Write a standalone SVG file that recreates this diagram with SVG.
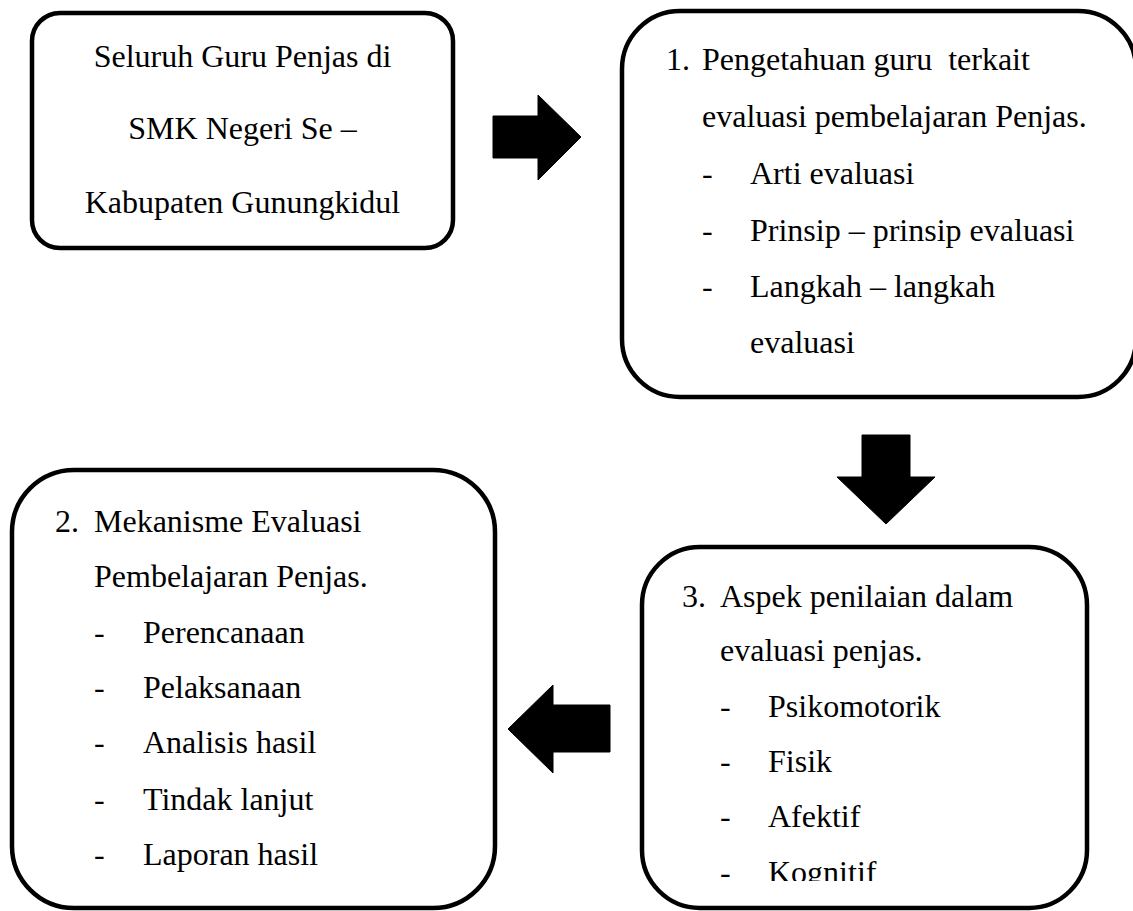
<svg xmlns="http://www.w3.org/2000/svg" width="1133" height="911" viewBox="0 0 1133 911" font-family="Liberation Serif, Times New Roman, DejaVu Serif, serif">
<style>
.box{fill:#fff;stroke:#000;stroke-width:4.5}
text{font-size:32px;fill:#000}
.c{text-anchor:middle}
.arr{fill:#000;stroke:#000;stroke-width:1;stroke-linejoin:round}
</style>
<defs>
<clipPath id="clip3"><rect x="642" y="547" width="445" height="334"/></clipPath>
</defs>
<rect width="1133" height="911" fill="#fff"/>
<g id="node-source" font-family="Liberation Serif, serif">
<rect class="box" x="32" y="13" width="421" height="235" rx="28" ry="28"/>
<text class="c" x="242.5" y="67" font-family="Liberation Serif, serif">Seluruh Guru Penjas di</text>
<text class="c" x="242.5" y="139" font-family="Liberation Serif, serif">SMK Negeri Se –</text>
<text class="c" x="242.5" y="213" font-family="Liberation Serif, serif">Kabupaten Gunungkidul</text>
</g>
<g id="node-1" font-family="Liberation Serif, serif">
<rect class="box" x="622" y="11" width="514" height="386" rx="58" ry="58"/>
<text x="666" y="70">1.</text>
<text x="702" y="70" xml:space="preserve">Pengetahuan guru  terkait</text>
<text x="702" y="127">evaluasi pembelajaran Penjas.</text>
<text x="702" y="184">-</text><text x="750" y="184">Arti evaluasi</text>
<text x="702" y="241">-</text><text x="750" y="241">Prinsip – prinsip evaluasi</text>
<text x="702" y="297">-</text><text x="750" y="297">Langkah – langkah</text>
<text x="750" y="353">evaluasi</text>
</g>
<g id="node-3" font-family="Liberation Serif, serif">
<rect class="box" x="642" y="547" width="445" height="361" rx="58" ry="58"/>
<g clip-path="url(#clip3)">
<text x="682" y="607">3.</text>
<text x="720" y="607">Aspek penilaian dalam</text>
<text x="720" y="661">evaluasi penjas.</text>
<text x="720" y="717">-</text><text x="768" y="717">Psikomotorik</text>
<text x="720" y="772">-</text><text x="768" y="772">Fisik</text>
<text x="720" y="827">-</text><text x="768" y="827">Afektif</text>
<text x="720" y="883">-</text><text x="768" y="883">Kognitif</text>
</g>
</g>
<g id="node-2" font-family="Liberation Serif, serif">
<rect class="box" x="12" y="470" width="483" height="438" rx="62" ry="62"/>
<text x="55" y="532">2.</text>
<text x="94" y="532">Mekanisme Evaluasi</text>
<text x="94" y="587">Pembelajaran Penjas.</text>
<text x="94" y="643">-</text><text x="143" y="643">Perencanaan</text>
<text x="94" y="698">-</text><text x="143" y="698">Pelaksanaan</text>
<text x="94" y="753">-</text><text x="143" y="753">Analisis hasil</text>
<text x="94" y="810">-</text><text x="143" y="810">Tindak lanjut</text>
<text x="94" y="865">-</text><text x="143" y="865">Laporan hasil</text>
</g>
<g id="connectors">
<polygon class="arr" points="493,116 538,116 538,95 581,137 538,180 538,158 493,158"/>
<polygon class="arr" points="862,435 910,435 910,477 935,477 886,524 837,477 862,477"/>
<polygon class="arr" points="610,705 553,705 553,685 508,729 553,773 553,752 610,752"/>
</g>
</svg>
